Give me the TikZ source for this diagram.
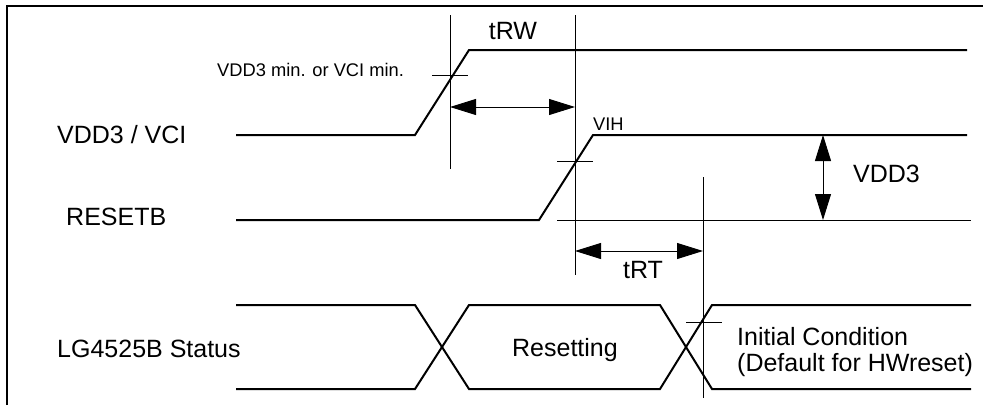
\documentclass[tikz,border=0pt]{standalone}
\usepackage{fontspec}
\setmainfont{Liberation Sans}
\usetikzlibrary{arrows.meta}
\begin{document}
\begin{tikzpicture}[x=1pt,y=-1pt,
  sig/.style={line width=2pt, line join=miter},
  guide/.style={line width=0.9pt},
  frameline/.style={line width=2.2pt},
  dimarrow/.style={line width=0.9pt, {Triangle[length=26pt,width=16pt]}-{Triangle[length=26pt,width=16pt]}},
  big/.style={font=\fontsize{25}{30}\selectfont, inner sep=0pt},
  small/.style={font=\fontsize{18.3}{22}\selectfont, inner sep=0pt}]
\useasboundingbox (0,0) rectangle (983,405);
% frame
\draw[frameline] (7,405) -- (7,6) -- (983,6);

% labels on the left
\node[big, anchor=base west] (lvdd) at (57,143) {VDD3 / VCI};
\node[big, anchor=base west] (lrst) at (66,225) {RESETB};
\node[big, anchor=base west] (lstat) at (57,357) {LG4525B Status};

% VDD3 / VCI waveform
\draw[sig] (236,135) -- (415,135) -- (469,50) -- (967,50);
\draw[guide] (432,75) -- (468,75);
\node[small, anchor=base west] (lmin) at (217,76) {VDD3 min. or VCI min.};

% RESETB waveform
\draw[sig] (236,220) -- (539,220) -- (593,135) -- (967,135);
\draw[guide] (557,161) -- (593,161);
\node[small, anchor=base west] (lvih) at (593,130) {VIH};
\draw[guide] (557,220) -- (971,220);

% vertical guides
\coordinate (v1t) at (450,15);  \coordinate (v1b) at (450,169);
\coordinate (v2t) at (575,15);  \coordinate (v2b) at (575,275);
\coordinate (v3t) at (703,177); \coordinate (v3b) at (703,398);
\draw[guide] (v1t) -- (v1b);
\draw[guide] (v2t) -- (v2b);
\draw[guide] (v3t) -- (v3b);

% tRW
\coordinate (trwA) at (450,107); \coordinate (trwB) at (575,107);
\draw[dimarrow] (trwA) -- (trwB);
\node[big, anchor=base] (ltrw) at (513,39) {tRW};

% VDD3 amplitude
\coordinate (vaT) at (823,135); \coordinate (vaB) at (823,220);
\draw[dimarrow] (vaT) -- (vaB);
\node[big, anchor=base west] (lvdd3) at (853,182) {VDD3};

% tRT
\coordinate (trtA) at (575,251); \coordinate (trtB) at (703,251);
\draw[dimarrow] (trtA) -- (trtB);
\node[big, anchor=base] (ltrt) at (643,278) {tRT};

% status bus
\draw[sig] (236,305) -- (415,305) -- (469,389) -- (660,389) -- (712,305) -- (971,305);
\draw[sig] (236,389) -- (415,389) -- (469,305) -- (660,305) -- (712,389) -- (971,389);
\draw[guide] (686,322) -- (722,322);
\node[big, anchor=base] (lres) at (565,356) {Resetting};
\node[big, anchor=base west] (linit) at (737,345) {Initial Condition};
\node[big, anchor=base west] (ldef) at (737,371) {(Default for HWreset)};
\end{tikzpicture}
\end{document}
